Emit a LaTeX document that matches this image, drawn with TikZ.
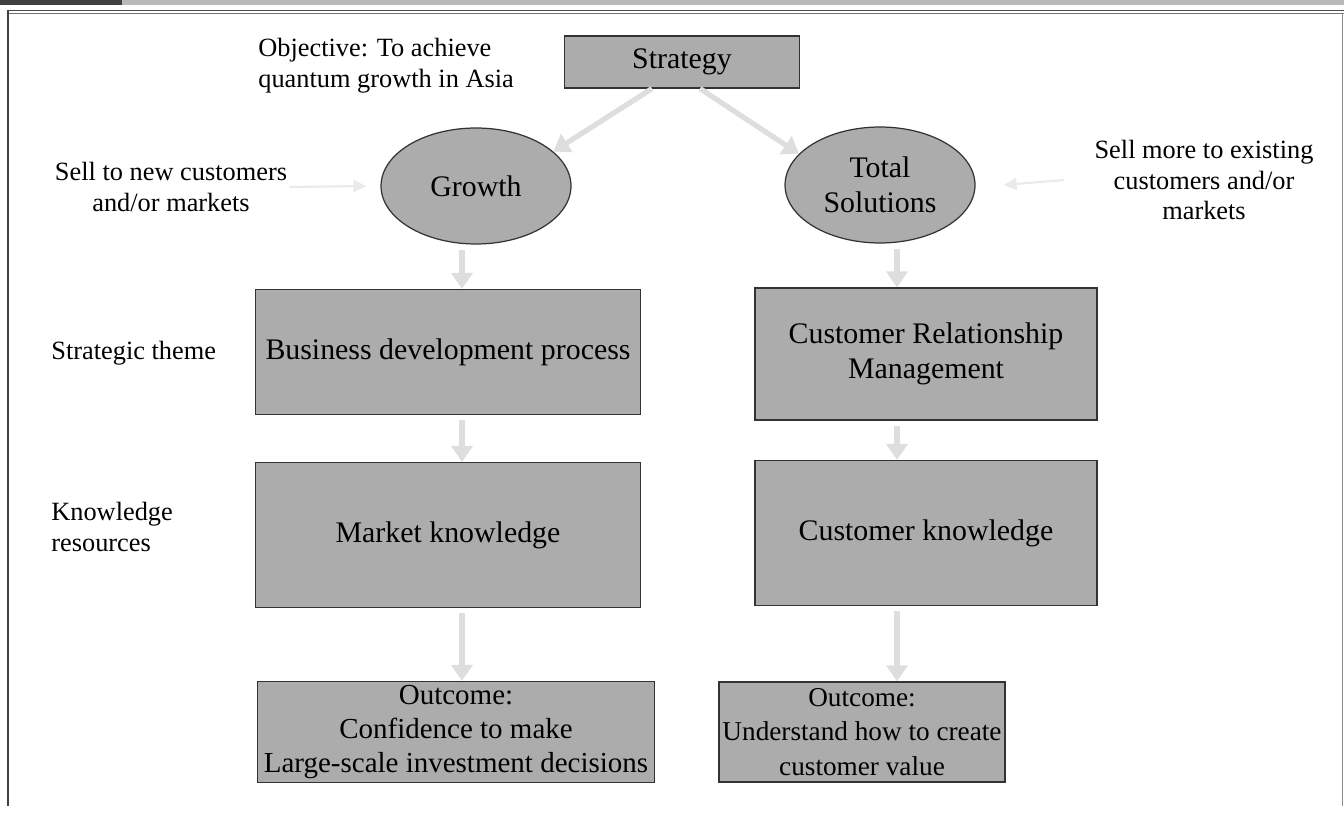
\documentclass[tikz,border=0pt]{standalone}
\usepackage{fontspec}
\setmainfont{Liberation Serif}
\usetikzlibrary {positioning}
\usetikzlibrary {arrows.meta}
\usetikzlibrary {shapes.geometric}
\definecolor{boxfill}{RGB}{172,172,172}
\definecolor{flowgray}{RGB}{222,222,222}
\definecolor{faintgray}{RGB}{234,234,234}
\tikzset{
box/.style={rectangle,draw=black!80,fill=boxfill,line width=0.7pt,align=center,font=\fontsize{17}{20}\selectfont,inner sep=2pt}
}
\tikzset{
oval/.style={ellipse,draw=black!80,fill=boxfill,line width=0.7pt,align=center,font=\fontsize{17}{20}\selectfont,minimum width=3.8cm,minimum height=2.32cm,inner sep=0pt}
}
\tikzset{
note/.style={align=center,font=\fontsize{15}{17.5}\selectfont,inner sep=0pt}
}
\tikzset{
flow/.style={draw=flowgray,line width=3pt,-{Triangle[width=0.42cm,length=0.32cm]}}
}
\tikzset{
hint/.style={draw=faintgray,line width=1.2pt,-{Triangle[width=0.24cm,length=0.26cm]}}
}

\begin{document}
\begin{tikzpicture}[x=0.02cm,y=-0.02cm]
\useasboundingbox (0,0) rectangle (1344,813);

% frame
\fill[gray!55] (0,0) rectangle (1344,5);
\fill[black!75] (0,0) rectangle (122,5);
\draw[black!70,line width=0.5pt] (8,10) -- (1344,10);
\draw[black!55,line width=0.5pt] (8,13) -- (1344,13);
\draw[black!75,line width=0.9pt] (8,10) -- (8,806);
\draw[black!45,line width=0.4pt] (1342,13) -- (1342,806);

% top
\node[box,minimum width=4.7cm,minimum height=1.04cm] (strat) at (682,62) {Strategy};
\node[note,align=left,anchor=west] (obj) at (258,66) {Objective: To achieve\\quantum growth in Asia};

\node[oval] (growth) at (476,186) {Growth};
\node[oval] (total) at (880,185) {Total\\Solutions};
\node[note] (sellnew) at (171,187) {Sell to new customers\\and/or markets};
\node[note] (sellmore) at (1204,180) {Sell more to existing\\customers and/or\\markets};

% left column
\node[box,minimum width=7.7cm,minimum height=2.5cm] (busdev) at (448,352) {Business development process};
\node[box,minimum width=7.7cm,minimum height=2.9cm] (market) at (448,535) {Market knowledge};
\node[box,minimum width=7.94cm,minimum height=1.94cm,font=\fontsize{16.5}{19.5}\selectfont] (outL) at (456,732) {Outcome:\\Confidence to make\\Large-scale investment decisions};

% right column
\node[box,minimum width=6.84cm,minimum height=2.64cm] (crm) at (926,354) {Customer Relationship\\Management};
\node[box,minimum width=6.84cm,minimum height=2.9cm] (custk) at (926,533) {Customer knowledge};
\node[box,minimum width=5.7cm,minimum height=2cm,font=\fontsize{15.5}{19.5}\selectfont] (outR) at (862,732) {Outcome:\\Understand how to create\\customer value};

% row labels
\node[note,anchor=west] (theme) at (51,353) {Strategic theme};
\node[note,align=left,anchor=west] (knowres) at (51,527) {Knowledge\\resources};

% arrows
\coordinate (colL) at (462,0);
\coordinate (colR) at (897,0);
\draw[flow] ([xshift=-0.6cm]strat.south) -- (growth.24);
\draw[flow] ([xshift=0.36cm]strat.south) -- (total.159);
\draw[hint] ([xshift=0.04cm]sellnew.east) -- ([xshift=-0.28cm]growth.west);
\draw[hint] ([xshift=-0.6cm]sellmore.west) -- ([xshift=0.56cm]total.east);

\draw[flow,shorten <=3pt] (growth.south -| colL) -- (busdev.north -| colL);
\draw[flow,shorten <=3pt] (busdev.south -| colL) -- (market.north -| colL);
\draw[flow,shorten <=3pt] (market.south -| colL) -- (outL.north -| colL);
\draw[flow,shorten <=3pt] (total.south -| colR) -- (crm.north -| colR);
\draw[flow,shorten <=3pt] (crm.south -| colR) -- (custk.north -| colR);
\draw[flow,shorten <=3pt] (custk.south -| colR) -- (outR.north -| colR);
\end{tikzpicture}
\end{document}
